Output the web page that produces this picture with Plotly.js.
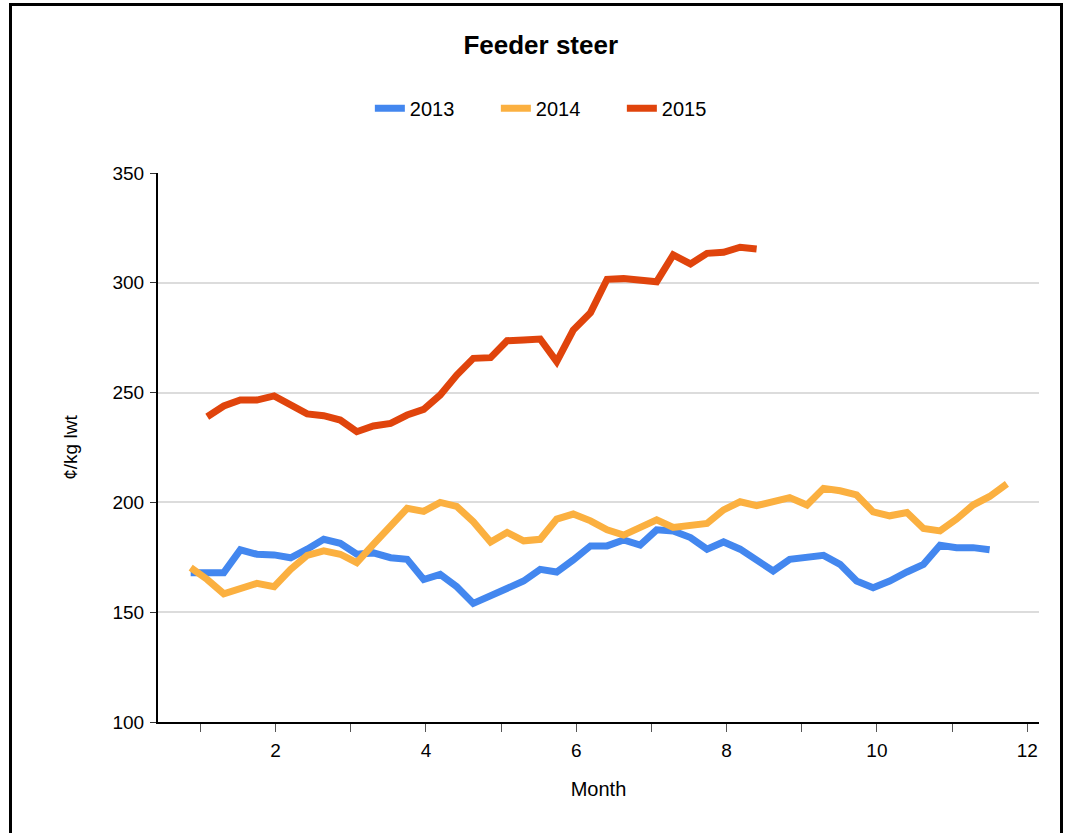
<!DOCTYPE html>
<html>
<head>
<meta charset="utf-8">
<script src="https://cdn.plot.ly/plotly-3.0.1.min.js"></script>
<style>
  html, body { margin: 0; padding: 0; background: #fff; }
  #chart { width: 1075px; height: 833px; }
  #frame { position: absolute; left: 9px; top: 3px; width: 1054px; height: 845px;
           border: 3px solid #000; pointer-events: none; box-sizing: border-box; }
</style>
</head>
<body>
<div id="chart"></div>
<div id="frame"></div>
<script>
// Week positions expressed in months (x axis)
const months = [0.87, 1.09, 1.31, 1.53, 1.75, 1.98, 2.20, 2.42, 2.64, 2.86,
                3.08, 3.30, 3.53, 3.75, 3.97, 4.19, 4.41, 4.63, 4.86, 5.08,
                5.30, 5.52, 5.74, 5.96, 6.19, 6.41, 6.63, 6.85, 7.07, 7.29,
                7.52, 7.74, 7.96, 8.18, 8.40, 8.62, 8.84, 9.07, 9.29, 9.51,
                9.73, 9.95, 10.17, 10.40, 10.62, 10.84, 11.06, 11.28, 11.50, 11.73];

const values2013 = [168.0, 168.0, 168.0, 178.4, 176.4, 176.1, 174.8, 178.7, 183.2, 181.4,
                    176.4, 177.0, 174.8, 174.1, 164.9, 167.2, 161.6, 154.0, 157.3, 161.1,
                    164.2, 169.5, 168.3, 173.8, 180.2, 180.2, 182.9, 180.6, 187.5, 187.0,
                    184.0, 178.7, 182.0, 178.7, 173.8, 168.8, 174.1, 174.8, 175.9, 171.8,
                    164.2, 161.1, 164.2, 168.3, 171.8, 180.5, 179.4, 179.4, 178.4];

const values2014 = [170.3, 164.9, 158.4, 160.7, 163.1, 161.6, 169.5, 175.9, 177.9, 176.4,
                    172.6, 180.9, 189.6, 197.3, 195.9, 200.0, 198.2, 191.2, 182.0, 186.3,
                    182.5, 183.2, 192.4, 194.7, 191.6, 187.5, 185.1, 188.9, 192.1, 188.6,
                    189.6, 190.4, 196.6, 200.3, 198.5, 200.3, 202.2, 198.8, 206.4, 205.3,
                    203.4, 195.7, 193.9, 195.4, 188.1, 187.0, 192.4, 198.8, 202.7, 208.4];

const values2015 = [239.0, 243.9, 246.6, 246.6, 248.5, 244.8, 240.3, 239.5, 237.5, 232.2,
                    234.8, 236.0, 239.8, 242.4, 248.9, 258.0, 265.6, 265.9, 273.6, 274.0,
                    274.4, 264.1, 278.5, 286.4, 301.6, 301.9, 301.3, 300.5, 312.7, 308.6,
                    313.4, 313.9, 316.2, 315.4];

const seriesNames = ['2013', '2014', '2015'];
const seriesColors = ['#4387ef', '#fbb040', '#e0440c'];

const x2013 = months.slice(0, values2013.length);
const x2014 = months.slice(0, values2014.length);
const x2015 = months.slice(1, 1 + values2015.length);

const font = 'Liberation Sans, Arial, sans-serif';

function mk(x, y, i) {
  return {
    x: x, y: y, name: seriesNames[i], type: 'scatter', mode: 'lines',
    line: { color: seriesColors[i], width: 7, shape: 'linear' },
    hoverinfo: 'x+y'
  };
}

const data = [mk(x2013, values2013, 0), mk(x2014, values2014, 1), mk(x2015, values2015, 2)];

const layout = {
  width: 1075, height: 833,
  margin: { l: 158, r: 36, t: 173, b: 111 },
  paper_bgcolor: '#fff', plot_bgcolor: '#fff',
  font: { family: font, size: 19, color: '#000' },
  title: {
    text: '<b>Feeder steer</b>',
    font: { family: font, size: 26, color: '#000' },
    x: 0.503, xref: 'container', xanchor: 'center',
    y: 1 - 45 / 833, yref: 'container', yanchor: 'middle'
  },
  showlegend: true,
  legend: {
    orientation: 'h', x: 0.455, xanchor: 'center', y: 1.118, yanchor: 'middle',
    font: { family: font, size: 20, color: '#000' },
    entrywidth: 81, entrywidthmode: 'pixels', tracegroupgap: 0
  },
  xaxis: {
    range: [0.435, 12.157],
    tick0: 0, dtick: 2,
    ticks: 'outside', ticklen: 8, tickcolor: '#555', tickwidth: 1,
    minor: { dtick: 1, ticks: 'outside', ticklen: 8, tickcolor: '#555', tickwidth: 1, showgrid: false },
    showgrid: false, zeroline: false,
    showline: true, linecolor: '#000', linewidth: 2,
    tickfont: { family: font, size: 19, color: '#000' },
    ticklabelstandoff: 2,
    title: { text: 'Month', font: { family: font, size: 20, color: '#000' }, standoff: 22 }
  },
  yaxis: {
    range: [100, 350],
    tick0: 100, dtick: 50,
    ticks: 'outside', ticklen: 6, tickcolor: '#333', tickwidth: 1,
    showgrid: true, gridcolor: '#dcdcdc', gridwidth: 2,
    zeroline: false,
    showline: true, linecolor: '#000', linewidth: 2,
    tickfont: { family: font, size: 19, color: '#000' },
    ticklabelstandoff: 2,
    title: { text: '¢/kg lwt', font: { family: font, size: 19, color: '#000' }, standoff: 30 }
  }
};

Plotly.newPlot('chart', data, layout, { displayModeBar: false, staticPlot: true });
</script>
</body>
</html>
